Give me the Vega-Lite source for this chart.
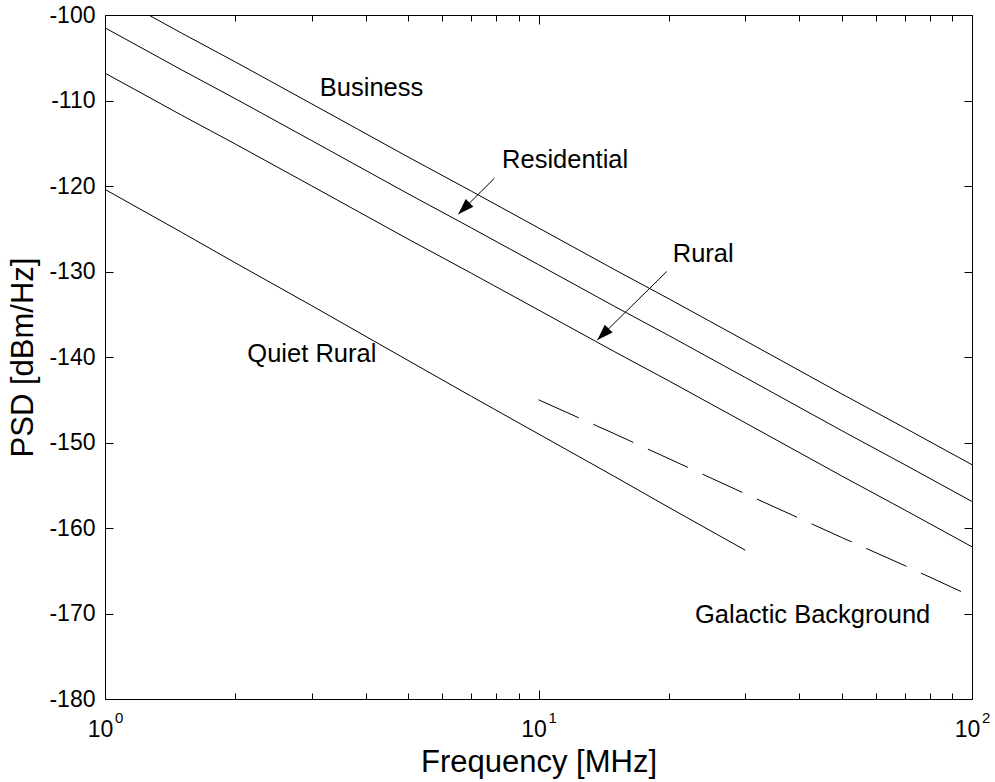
{
  "$schema": "https://vega.github.io/schema/vega-lite/v6.json",
  "width": 867,
  "height": 684,
  "autosize": {"type": "none"},
  "padding": {"left": 105, "top": 15, "right": 23, "bottom": 83},
  "background": "white",
  "config": {
    "font": "Liberation Sans",
    "view": {"stroke": null},
    "axis": {
      "grid": false,
      "domainColor": "black",
      "tickColor": "black",
      "labelColor": "black",
      "titleColor": "black",
      "labelFont": "Liberation Sans",
      "titleFont": "Liberation Sans",
      "labelFontSize": 23,
      "titleFontSize": 31,
      "titleFontWeight": "normal",
      "domainWidth": 1,
      "tickWidth": 1,
      "labelFlush": false,
      "labelOverlap": false,
      "labelBound": false
    },
    "text": {"font": "Liberation Sans", "color": "black"}
  },
  "datasets": {
    "noise": [
      {"series": "Business", "f": 1, "psd": -97.2},
      {"series": "Business", "f": 1.5, "psd": -102.1},
      {"series": "Business", "f": 2, "psd": -105.5},
      {"series": "Business", "f": 3, "psd": -110.4},
      {"series": "Business", "f": 5, "psd": -116.6},
      {"series": "Business", "f": 7, "psd": -120.6},
      {"series": "Business", "f": 10, "psd": -124.9},
      {"series": "Business", "f": 15, "psd": -129.8},
      {"series": "Business", "f": 20, "psd": -133.2},
      {"series": "Business", "f": 30, "psd": -138.1},
      {"series": "Business", "f": 50, "psd": -144.3},
      {"series": "Business", "f": 70, "psd": -148.3},
      {"series": "Business", "f": 100, "psd": -152.6},
      {"series": "Residential", "f": 1, "psd": -101.5},
      {"series": "Residential", "f": 1.5, "psd": -106.4},
      {"series": "Residential", "f": 2, "psd": -109.8},
      {"series": "Residential", "f": 3, "psd": -114.7},
      {"series": "Residential", "f": 5, "psd": -120.9},
      {"series": "Residential", "f": 7, "psd": -124.9},
      {"series": "Residential", "f": 10, "psd": -129.2},
      {"series": "Residential", "f": 15, "psd": -134.1},
      {"series": "Residential", "f": 20, "psd": -137.5},
      {"series": "Residential", "f": 30, "psd": -142.4},
      {"series": "Residential", "f": 50, "psd": -148.6},
      {"series": "Residential", "f": 70, "psd": -152.6},
      {"series": "Residential", "f": 100, "psd": -156.9},
      {"series": "Rural", "f": 1, "psd": -106.8},
      {"series": "Rural", "f": 1.5, "psd": -111.7},
      {"series": "Rural", "f": 2, "psd": -115.1},
      {"series": "Rural", "f": 3, "psd": -120.0},
      {"series": "Rural", "f": 5, "psd": -126.2},
      {"series": "Rural", "f": 7, "psd": -130.2},
      {"series": "Rural", "f": 10, "psd": -134.5},
      {"series": "Rural", "f": 15, "psd": -139.4},
      {"series": "Rural", "f": 20, "psd": -142.8},
      {"series": "Rural", "f": 30, "psd": -147.7},
      {"series": "Rural", "f": 50, "psd": -153.9},
      {"series": "Rural", "f": 70, "psd": -157.9},
      {"series": "Rural", "f": 100, "psd": -162.2},
      {"series": "Quiet Rural", "f": 1, "psd": -120.4},
      {"series": "Quiet Rural", "f": 1.5, "psd": -125.4},
      {"series": "Quiet Rural", "f": 2, "psd": -129.0},
      {"series": "Quiet Rural", "f": 3, "psd": -134.0},
      {"series": "Quiet Rural", "f": 5, "psd": -140.4},
      {"series": "Quiet Rural", "f": 7, "psd": -144.6},
      {"series": "Quiet Rural", "f": 10, "psd": -149.0},
      {"series": "Quiet Rural", "f": 15, "psd": -154.0},
      {"series": "Quiet Rural", "f": 20, "psd": -157.6},
      {"series": "Quiet Rural", "f": 30, "psd": -162.6},
      {"series": "Galactic", "f": 10, "psd": -145.0},
      {"series": "Galactic", "f": 15, "psd": -149.0},
      {"series": "Galactic", "f": 20, "psd": -151.9},
      {"series": "Galactic", "f": 30, "psd": -156.0},
      {"series": "Galactic", "f": 50, "psd": -161.1},
      {"series": "Galactic", "f": 70, "psd": -164.4},
      {"series": "Galactic", "f": 95, "psd": -167.5}
    ],
    "labels": [
      {"label": "Business", "f": 3.13, "psd": -108.5},
      {"label": "Residential", "f": 8.24, "psd": -117.0},
      {"label": "Rural", "f": 20.4, "psd": -128.0},
      {"label": "Quiet Rural", "f": 2.13, "psd": -139.7},
      {"label": "Galactic Background", "f": 22.96, "psd": -170.2}
    ],
    "arrows": [
      {"target": "Residential", "f": 7.91, "psd": -119.1, "f2": 6.53, "psd2": -123.3},
      {"target": "Rural", "f": 19.76, "psd": -130.0, "f2": 13.67, "psd2": -138.0}
    ],
    "exponents": [
      {"f": 1, "e": "0"},
      {"f": 10, "e": "1"},
      {"f": 100, "e": "2"}
    ]
  },
  "resolve": {"axis": {"x": "independent", "y": "independent"}},
  "layer": [
    {
      "data": {"name": "noise"},
      "transform": [{"filter": "datum.series != 'Galactic'"}],
      "mark": {"type": "line", "clip": true, "color": "black", "strokeWidth": 1},
      "encoding": {
        "x": {
          "field": "f", "type": "quantitative",
          "scale": {"type": "log", "domain": [1, 100], "nice": false},
          "axis": {"orient": "bottom", "values": [1, 10, 100], "labelExpr": "'10'", "ticks": false, "labelPadding": 19, "labelOffset": -5, "title": "Frequency [MHz]", "titlePadding": 6}
        },
        "y": {
          "field": "psd", "type": "quantitative",
          "scale": {"domain": [-180, -100], "nice": false, "zero": false},
          "axis": {"orient": "left", "values": [-180, -170, -160, -150, -140, -130, -120, -110, -100], "labelExpr": "'' + datum.value", "ticks": false, "labelPadding": 10, "title": "PSD [dBm/Hz]", "titlePadding": 9}
        },
        "detail": {"field": "series"}
      }
    },
    {
      "data": {"name": "noise"},
      "transform": [{"filter": "datum.series == 'Galactic'"}],
      "mark": {"type": "line", "clip": true, "color": "black", "strokeWidth": 1, "strokeDash": [44, 16]},
      "encoding": {
        "x": {
          "field": "f", "type": "quantitative",
          "scale": {"type": "log", "domain": [1, 100], "nice": false},
          "axis": {"orient": "bottom", "values": [1, 10, 100], "labels": false, "tickSize": -9, "domain": false, "title": null}
        },
        "y": {
          "field": "psd", "type": "quantitative",
          "scale": {"domain": [-180, -100], "nice": false, "zero": false},
          "axis": {"orient": "left", "values": [-180, -170, -160, -150, -140, -130, -120, -110, -100], "labels": false, "tickSize": -8, "domain": false, "title": null}
        }
      }
    },
    {
      "data": {"name": "labels"},
      "mark": {"type": "text", "align": "left", "baseline": "middle", "fontSize": 25.5, "color": "black"},
      "encoding": {
        "x": {
          "field": "f", "type": "quantitative",
          "scale": {"type": "log", "domain": [1, 100], "nice": false},
          "axis": {"orient": "bottom", "values": [2, 3, 4, 5, 6, 7, 8, 9, 20, 30, 40, 50, 60, 70, 80, 90], "labels": false, "tickSize": -6, "domain": false, "title": null}
        },
        "y": {
          "field": "psd", "type": "quantitative",
          "scale": {"domain": [-180, -100], "nice": false, "zero": false},
          "axis": {"orient": "right", "values": [-180, -170, -160, -150, -140, -130, -120, -110, -100], "labels": false, "tickSize": -8, "domain": true, "title": null}
        },
        "text": {"field": "label"}
      }
    },
    {
      "data": {"name": "arrows"},
      "mark": {"type": "rule", "color": "black", "strokeWidth": 1},
      "encoding": {
        "x": {
          "field": "f", "type": "quantitative",
          "scale": {"type": "log", "domain": [1, 100], "nice": false},
          "axis": {"orient": "top", "values": [1, 10, 100], "labels": false, "tickSize": -9, "domain": true, "title": null}
        },
        "y": {
          "field": "psd", "type": "quantitative",
          "scale": {"domain": [-180, -100], "nice": false, "zero": false},
          "axis": null
        },
        "x2": {"field": "f2"},
        "y2": {"field": "psd2"}
      }
    },
    {
      "data": {"name": "arrows"},
      "mark": {"type": "point", "shape": "M0,0L0.55,1.6L-0.55,1.6Z", "filled": true, "color": "black", "opacity": 1, "size": 400, "angle": 225, "strokeWidth": 0},
      "encoding": {
        "x": {
          "field": "f2", "type": "quantitative",
          "scale": {"type": "log", "domain": [1, 100], "nice": false},
          "axis": {"orient": "top", "values": [2, 3, 4, 5, 6, 7, 8, 9, 20, 30, 40, 50, 60, 70, 80, 90], "labels": false, "tickSize": -6, "domain": false, "title": null}
        },
        "y": {
          "field": "psd2", "type": "quantitative",
          "scale": {"domain": [-180, -100], "nice": false, "zero": false},
          "axis": null
        }
      }
    },
    {
      "data": {"name": "exponents"},
      "mark": {"type": "text", "align": "left", "baseline": "top", "dx": 10, "dy": 12, "fontSize": 15, "color": "black"},
      "encoding": {
        "x": {
          "field": "f", "type": "quantitative",
          "scale": {"type": "log", "domain": [1, 100], "nice": false},
          "axis": null
        },
        "y": {
          "datum": -180, "type": "quantitative",
          "scale": {"domain": [-180, -100], "nice": false, "zero": false},
          "axis": null
        },
        "text": {"field": "e"}
      }
    }
  ]
}
